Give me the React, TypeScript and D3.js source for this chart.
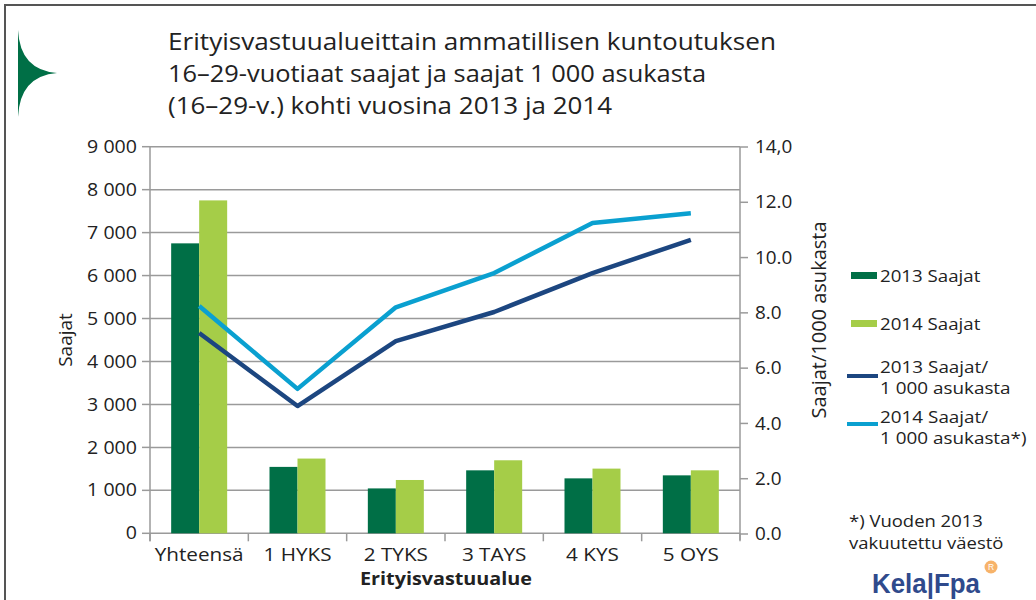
import React from "react";
import * as d3 from "d3";

const categories = ["Yhteensä", "1 HYKS", "2 TYKS", "3 TAYS", "4 KYS", "5 OYS"];
const saajat2013 = [6750, 1546, 1045, 1466, 1279, 1349];
const saajat2014 = [7750, 1740, 1241, 1700, 1506, 1466];
const per1000_2013 = [7.27, 4.63, 6.98, 8.03, 9.44, 10.64];
const per1000_2014 = [8.25, 5.25, 8.2, 9.44, 11.25, 11.6];
const leftTicks = [0, 1000, 2000, 3000, 4000, 5000, 6000, 7000, 8000, 9000];
const rightTicks = [0, 2, 4, 6, 8, 10, 12, 14];
const rightTickLabels = ["0.0", "2.0", "4.0", "6.0", "8.0", "10.0", "12.0", "14,0"];
const titleLines = [
  "Erityisvastuualueittain ammatillisen kuntoutuksen",
  "16–29-vuotiaat saajat ja saajat 1 000 asukasta",
  "(16–29-v.) kohti vuosina 2013 ja 2014",
];
const titleWidths = [608, 538, 444];

const C = {
  dark: "#006f46",
  light: "#a5cd48",
  navy: "#1c4680",
  cyan: "#0aa0d0",
  grid: "#9a9a9a",
  text: "#222",
};
const FONT = "'Open Sans', 'Noto Sans', sans-serif";

type TProps = {
  x: number;
  y: number;
  sx?: number;
  size: number;
  anchor?: "start" | "middle" | "end";
  weight?: string;
  dy?: string;
  children: React.ReactNode;
};
function T({ x, y, sx = 1, size, anchor = "start", weight, dy, children }: TProps) {
  return (
    <text
      transform={`translate(${x},${y}) scale(${sx},1)`}
      textAnchor={anchor}
      fontSize={size}
      fontWeight={weight}
      dy={dy}
      fill={C.text}
    >
      {children}
    </text>
  );
}

export default function App() {
  const L = 150, R = 740;
  const x = d3.scaleBand<string>().domain(categories).range([L, R]).padding(0);
  const bw = x.bandwidth();
  const x1 = d3.scaleBand<string>().domain(["2013", "2014"]).range([bw / 2 - 28, bw / 2 + 28]);
  const yL = d3.scaleLinear().domain([0, 9000]).range([533.3, 146.7]);
  const yR = d3.scaleLinear().domain([0, 14]).range([534, 147]);
  const fmt = (v: number) => d3.format(",")(v).replace(/,/g, " ");

  const line = d3
    .line<number>()
    .x((_, i) => (x(categories[i]) as number) + bw / 2)
    .y((v) => yR(v));

  return (
    <svg width={1036} height={600} style={{ display: "block", position: "absolute", left: 0, top: 0 }} fontFamily={FONT}>
      <rect x={0} y={0} width={1036} height={600} fill="#fff" />
      {/* frame */}
      <path d="M5,600 L5,5 L1036,5" fill="none" stroke="#555" strokeWidth={2} />
      {/* logo */}
      <path d="M18,30 Q20,70 57,73 Q20,76 18,117 Z" fill="#006f46" />
      {/* title */}
      {titleLines.map((t, i) => (
        <text
          key={i}
          x={168}
          y={50 + i * 32}
          fontSize={24}
          fill={C.text}
          textLength={titleWidths[i]}
          lengthAdjust="spacingAndGlyphs"
        >
          {t}
        </text>
      ))}
      {/* gridlines */}
      {leftTicks.map((t) => (
        <line key={t} x1={L} x2={R} y1={yL(t)} y2={yL(t)} stroke={C.grid} strokeWidth={1.5} />
      ))}
      {/* left axis */}
      <line x1={L} x2={L} y1={yL(9000)} y2={yL(0) + 8} stroke={C.grid} strokeWidth={1.5} />
      {leftTicks.map((t) => (
        <g key={t}>
          <line x1={L - 8} x2={L} y1={yL(t)} y2={yL(t)} stroke={C.grid} strokeWidth={1.5} />
          <T x={137} y={yL(t)} dy="0.35em" anchor="end" size={17.5} sx={1.12}>
            {fmt(t)}
          </T>
        </g>
      ))}
      {/* right axis */}
      <line x1={R} x2={R} y1={yR(14)} y2={yR(0) + 6} stroke={C.grid} strokeWidth={1.5} />
      {rightTicks.map((t, i) => (
        <g key={t}>
          <line x1={R} x2={R + 8} y1={yR(t)} y2={yR(t)} stroke={C.grid} strokeWidth={1.5} />
          <T x={755} y={yR(t)} dy="0.35em" size={17.5} sx={1.08}>
            {rightTickLabels[i]}
          </T>
        </g>
      ))}
      {/* category ticks */}
      {[...categories.map((c) => x(c) as number), R].map((p, i) => (
        <line key={i} x1={p} x2={p} y1={yL(0)} y2={yL(0) + 8} stroke={C.grid} strokeWidth={1.5} />
      ))}
      {/* bars */}
      {categories.map((c, i) => (
        <g key={c}>
          <rect
            x={(x(c) as number) + (x1("2013") as number)}
            y={yL(saajat2013[i])}
            width={x1.bandwidth()}
            height={yL(0) - yL(saajat2013[i])}
            fill={C.dark}
          />
          <rect
            x={(x(c) as number) + (x1("2014") as number)}
            y={yL(saajat2014[i])}
            width={x1.bandwidth()}
            height={yL(0) - yL(saajat2014[i])}
            fill={C.light}
          />
        </g>
      ))}
      {categories.map((c) => (
        <T key={c} x={(x(c) as number) + bw / 2} y={561} anchor="middle" size={18} sx={1.15}>
          {c}
        </T>
      ))}
      {/* lines */}
      <path d={line(per1000_2013) as string} fill="none" stroke={C.navy} strokeWidth={4.5} strokeLinejoin="round" />
      <path d={line(per1000_2014) as string} fill="none" stroke={C.cyan} strokeWidth={4.5} strokeLinejoin="round" />
      {/* axis titles */}
      <T x={446} y={585} anchor="middle" size={17.5} weight="bold" sx={1.13}>
        Erityisvastuualue
      </T>
      <text transform="translate(72,340) rotate(-90)" textAnchor="middle" fontSize={19} fill={C.text}>
        Saajat
      </text>
      <text transform="translate(826,320) rotate(-90)" textAnchor="middle" fontSize={20} fill={C.text}>
        Saajat/1000 asukasta
      </text>
      {/* legend */}
      <rect x={851} y={272} width={26} height={7} fill={C.dark} />
      <T x={880} y={282} size={17} sx={1.1}>2013 Saajat</T>
      <rect x={851} y={320} width={26} height={7} fill={C.light} />
      <T x={880} y={330} size={17} sx={1.1}>2014 Saajat</T>
      <line x1={847} x2={878} y1={376} y2={376} stroke={C.navy} strokeWidth={4} />
      <T x={880} y={373} size={16} sx={1.18}>2013 Saajat/</T>
      <T x={880} y={394} size={16} sx={1.18}>1 000 asukasta</T>
      <line x1={847} x2={878} y1={424} y2={424} stroke={C.cyan} strokeWidth={4} />
      <T x={880} y={423} size={16} sx={1.18}>2014 Saajat/</T>
      <T x={880} y={444} size={16} sx={1.18}>1 000 asukasta*)</T>
      {/* footnote */}
      <T x={849} y={527} size={16.5} sx={1.12}>*) Vuoden 2013</T>
      <T x={849} y={549} size={16.5} sx={1.12}>vakuutettu väestö</T>
      {/* Kela logo */}
      <text
        x={872}
        y={593}
        fontSize={28}
        fontWeight="bold"
        fill="#2f4a8c"
        fontFamily="'Liberation Sans', Arial, sans-serif"
        textLength={108}
        lengthAdjust="spacingAndGlyphs"
      >
        Kela|Fpa
      </text>
      <circle cx={991} cy={567} r={6.5} fill="#f7b36a" />
      <text x={991} y={570} fontSize={8.5} textAnchor="middle" fill="#fff" fontFamily="'Liberation Sans', sans-serif">
        R
      </text>
    </svg>
  );
}
